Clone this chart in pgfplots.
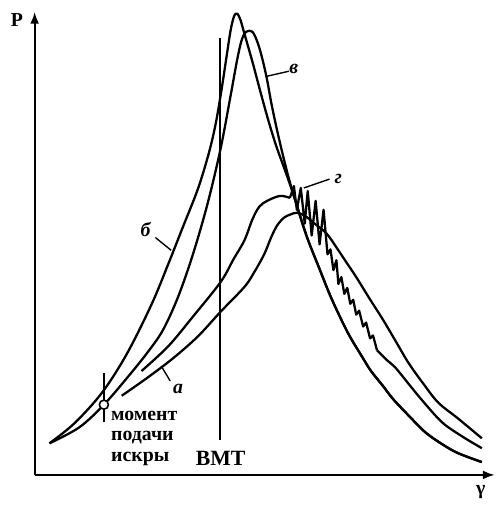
\documentclass[border=0pt]{standalone}
\usepackage{fontspec}
\setmainfont{Liberation Serif}
\usepackage{pgfplots}
\pgfplotsset{compat=1.18}
\usetikzlibrary{arrows.meta}

\begin{document}
\begin{tikzpicture}
\begin{axis}[
  scale only axis, width=232.5pt, height=234pt,
  xmin=35, xmax=500, ymin=25, ymax=493,
  axis lines=left, xtick=\empty, ytick=\empty,
  axis line style={line width=1pt, -{Latex[length=6pt,width=4.5pt]}},
  clip=false,
  every axis plot/.append style={line width=1.15pt, black, line join=round},
]
% curve b (highest peak)
\addplot[smooth, tension=0.55, no markers] coordinates {
 (50,57) (75,77) (103,108) (128,147) (153,197) (170,238) (185,276) (200,314)
 (211,350) (218,380) (224,415) (229,448) (233,474) (236,487) (238,491) (240,491) (243,485)
 (247,471) (255,443) (263,413) (271,384) (279,358) (288,333) (297,307)
 (307,275) (313,258) (323,233) (333,208) (343,186) (353,166) (365,146)
 (375,130) (387,115) (397,102) (413,85) (430,68) (447,56) (463,47) (487,38)};
% curve v
\addplot[smooth, tension=0.55, no markers] coordinates {
 (50,57) (80,73) (105,96) (130,125) (150,150) (165,172) (180,205) (195,248)
 (210,300) (223,355) (233,408) (239,441) (243,460) (246,469) (249,473) (252,474)
 (255,473) (258,468) (262,457) (266,442) (270,424) (274,402) (279,378)
 (285,352) (291,328) (297,307)
 (307,275) (313,258) (323,233) (333,208) (343,186) (353,166) (365,146)
 (375,130) (387,115) (397,102) (413,85) (430,68) (447,56) (463,47) (487,38)};
% curve a (lowest peak)
\addplot[smooth, tension=0.55, no markers] coordinates {
 (123,105) (150,124) (175,143) (200,165) (223,190) (247,215) (257,230) (267,248)
 (274,265) (280,277) (287,285) (293,288) (300,290) (308,287) (318,279) (330,269)
 (340,255) (350,240) (360,225) (373,204) (387,182) (400,160) (413,138) (428,117)
 (443,98) (463,82) (487,62)};
% curve g (knock) rising part
\addplot[smooth, tension=0.55, no markers] coordinates {
 (143,130) (170,155) (195,185) (223,220) (236,243) (247,262) (255,283)
 (262,296) (270,302) (283,307) (293,305)};
% curve g knock oscillations
\addplot[sharp plot, no markers] coordinates {
 (293,305) (297,317) (300,293) (304,315) (308,279) (311,312) (315,267) (319,302)
 (323,258) (327,293) (331,248) (334,253) (337,232) (340,242) (342,218) (345,225)
 (348,208) (351,214) (354,198) (357,202) (360,187) (363,191) (367,175) (370,179)
 (374,163) (377,166) (381,151)};
\addplot[smooth, tension=0.55, no markers] coordinates {
 (381,151) (390,142) (400,133) (413,117) (427,100) (447,78) (467,64) (487,52)};
% TDC line
\addplot[line width=1.1pt, no markers] coordinates {(222,60) (222,467)};
% spark tick and circle
\addplot[line width=0.9pt, no markers] coordinates {(105,78) (105,128)};
\addplot[only marks, mark=*, mark size=2.3pt, mark options={fill=white, draw=black, line width=0.8pt}] coordinates {(105,96)};
% leaders
\addplot[line width=0.7pt, no markers] coordinates {(157,265) (173,252)};
\addplot[line width=0.7pt, no markers] coordinates {(292,433) (270,428)};
\addplot[line width=0.7pt, no markers] coordinates {(333,324) (307,315)};
\addplot[line width=0.7pt, no markers] coordinates {(163,135) (172,120)};
% labels
\node[font=\fontsize{10}{10}\selectfont\bfseries\itshape] at (axis cs:147,273) {б};
\node[font=\fontsize{10}{10}\selectfont\bfseries\itshape] at (axis cs:297,435) {в};
\node[font=\fontsize{10}{10}\selectfont\bfseries\itshape] at (axis cs:342,324) {г};
\node[font=\fontsize{10}{10}\selectfont\bfseries\itshape] at (axis cs:180,112) {а};
\node[font=\fontsize{10}{10}\selectfont\bfseries] at (axis cs:17,485) {P};
\node[font=\fontsize{10}{10}\selectfont\bfseries] at (axis cs:486,8) {γ};
\node[font=\fontsize{11}{11}\selectfont\bfseries] at (axis cs:223,42) {ВМТ};
\node[font=\fontsize{10}{10.4}\selectfont\bfseries, align=left, anchor=west, inner sep=0pt] at (axis cs:112,62) {момент\\подачи\\искры};
\path (axis cs:0,0) rectangle (axis cs:502,505);
\end{axis}
\end{tikzpicture}
\end{document}
